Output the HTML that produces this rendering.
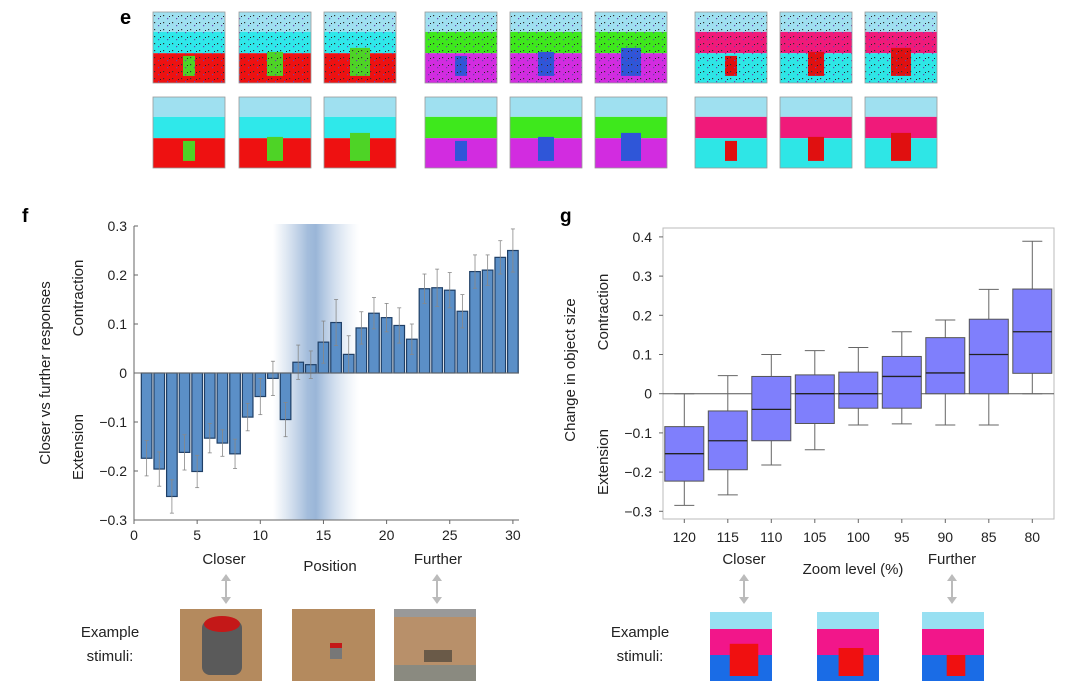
<!DOCTYPE html>
<html><head><meta charset="utf-8"><style>
html,body{margin:0;padding:0;background:#fff;}
svg{display:block;font-family:"Liberation Sans",sans-serif;}
</style></head><body>
<svg id="fig" width="1080" height="692" viewBox="0 0 1080 692" xmlns="http://www.w3.org/2000/svg">
<defs>
<linearGradient id="band" x1="0" x2="1" y1="0" y2="0">
<stop offset="0" stop-color="#aac2de" stop-opacity="0"/>
<stop offset="0.4" stop-color="#9ab6d8" stop-opacity="0.9"/>
<stop offset="0.5" stop-color="#9ab6d8" stop-opacity="1"/>
<stop offset="1" stop-color="#c8d8ec" stop-opacity="0"/>
</linearGradient>
<pattern id="noise" width="9" height="7" patternUnits="userSpaceOnUse">
<rect x="1" y="1" width="1.2" height="1.2" fill="#333"/><rect x="5" y="4" width="1.2" height="1.2" fill="#6a3fb0"/><rect x="7" y="2" width="1" height="1" fill="#222"/>
</pattern>
</defs>
<text x="120" y="24" font-size="20" font-weight="bold">e</text>
<g id="tiles"></g>
<text x="22" y="222" font-size="19" font-weight="bold">f</text>
<text x="560" y="222" font-size="19" font-weight="bold">g</text>
<g id="chartF"></g>
<g id="chartG"></g>
<g id="stimuli"></g>
</svg>
<script>
const NS='http://www.w3.org/2000/svg';
function mk(p,t,a){const e=document.createElementNS(NS,t);for(const k in a)e.setAttribute(k,a[k]);p.appendChild(e);return e;}
function tx(p,x,y,s,a){const e=mk(p,'text',Object.assign({x:x,y:y,'font-size':14,fill:'#222'},a||{}));e.textContent=s;return e;}

// ===== Panel f data =====
const fPositions=[1,2,3,4,5,6,7,8,9,10,11,12,13,14,15,16,17,18,19,20,21,22,23,24,25,26,27,28,29,30];
const fValues=[-0.174,-0.196,-0.252,-0.162,-0.201,-0.133,-0.143,-0.165,-0.090,-0.048,-0.011,-0.095,0.022,0.017,0.063,0.103,0.038,0.092,0.122,0.113,0.097,0.069,0.172,0.174,0.169,0.126,0.207,0.210,0.236,0.250];
const fErrors=[0.036,0.035,0.034,0.036,0.033,0.030,0.027,0.030,0.028,0.037,0.035,0.035,0.035,0.028,0.043,0.047,0.038,0.033,0.032,0.029,0.036,0.031,0.030,0.038,0.036,0.034,0.034,0.031,0.034,0.044];
const fYTicks=[0.3,0.2,0.1,0,-0.1,-0.2,-0.3];
const fYLabels=['0.3','0.2','0.1','0','\u22120.1','\u22120.2','\u22120.3'];
const fXTicks=[0,5,10,15,20,25,30];

const fX=v=>134+v*12.63;
const fY=v=>373-v*490;
const F=document.getElementById('chartF');
const band=mk(F,'rect',{x:273,y:224,width:86,height:296,fill:'url(#band)'});


fPositions.forEach((p,i)=>{
  const v=fValues[i],cx=fX(p),w=10.6;
  const b=mk(F,'rect',{x:cx-w/2,y:Math.min(fY(v),fY(0)),width:w,height:Math.abs(fY(v)-fY(0)),fill:'#5b8fc7',stroke:'#1f3f66','stroke-width':1.2});
  
  
  const e=fErrors[i];
  const g=mk(F,'g',{stroke:'#888','stroke-width':0.8});
  
  
  mk(g,'line',{x1:cx,x2:cx,y1:fY(v+e),y2:fY(v-e)});
  mk(g,'line',{x1:cx-2,x2:cx+2,y1:fY(v+e),y2:fY(v+e)});
  mk(g,'line',{x1:cx-2,x2:cx+2,y1:fY(v-e),y2:fY(v-e)});
});
mk(F,'line',{x1:134,x2:519,y1:fY(0),y2:fY(0),stroke:'#666','stroke-width':1});
mk(F,'line',{x1:134,x2:134,y1:fY(0.3),y2:fY(-0.3),stroke:'#666','stroke-width':1});
mk(F,'line',{x1:134,x2:519,y1:fY(-0.3),y2:fY(-0.3),stroke:'#666','stroke-width':1});
fYTicks.forEach((t,i)=>{mk(F,'line',{x1:134,x2:138,y1:fY(t),y2:fY(t),stroke:'#666'});
  const l=tx(F,127,fY(t)+5,fYLabels[i],{'text-anchor':'end'});
  
  });
fXTicks.forEach(t=>{mk(F,'line',{x1:fX(t),x2:fX(t),y1:fY(-0.3),y2:fY(-0.3)+4,stroke:'#666'});
  const l=tx(F,fX(t),540,String(t),{'text-anchor':'middle'});
  
  });
let t1=tx(F,0,0,'Closer vs further responses',{transform:'translate(50,373) rotate(-90)','text-anchor':'middle','font-size':15});

t1=tx(F,0,0,'Contraction',{transform:'translate(83,298) rotate(-90)','text-anchor':'middle','font-size':15});

t1=tx(F,0,0,'Extension',{transform:'translate(83,447) rotate(-90)','text-anchor':'middle','font-size':15});


// ===== Panel g data =====
const gCategories=['120','115','110','105','100','95','90','85','80'];
const gWhiskLow=[-0.285,-0.258,-0.182,-0.143,-0.080,-0.077,-0.080,-0.080,0.0];
const gQ1=[-0.223,-0.194,-0.120,-0.076,-0.037,-0.037,0.0,0.0,0.052];
const gMedian=[-0.153,-0.120,-0.040,0.0,0.0,0.044,0.053,0.100,0.158];
const gQ3=[-0.084,-0.044,0.044,0.048,0.055,0.095,0.143,0.190,0.267];
const gWhiskHigh=[0.0,0.046,0.100,0.110,0.118,0.158,0.188,0.266,0.389];
const gYTicks=[0.4,0.3,0.2,0.1,0,-0.1,-0.2,-0.3];
const gYLabels=['0.4','0.3','0.2','0.1','0','\u22120.1','\u22120.2','\u22120.3'];

const gX=i=>684.3+i*43.5;
const gY=v=>393.7-v*392;
const G=document.getElementById('chartG');
mk(G,'rect',{x:663,y:228,width:391,height:291,fill:'none',stroke:'#bbb','stroke-width':1});
mk(G,'line',{x1:663,x2:1054,y1:gY(0),y2:gY(0),stroke:'#555','stroke-width':1});
gCategories.forEach((c,i)=>{
  const cx=gX(i),w=39;
  const g=mk(G,'g',{});
  
  
  mk(g,'line',{x1:cx,x2:cx,y1:gY(gWhiskHigh[i]),y2:gY(gWhiskLow[i]),stroke:'#666','stroke-width':1});
  mk(g,'line',{x1:cx-10,x2:cx+10,y1:gY(gWhiskHigh[i]),y2:gY(gWhiskHigh[i]),stroke:'#666','stroke-width':1});
  mk(g,'line',{x1:cx-10,x2:cx+10,y1:gY(gWhiskLow[i]),y2:gY(gWhiskLow[i]),stroke:'#666','stroke-width':1});
  mk(g,'rect',{x:cx-w/2,y:gY(gQ3[i]),width:w,height:gY(gQ1[i])-gY(gQ3[i]),fill:'#7f7ffc',stroke:'#555','stroke-width':1});
  mk(g,'line',{x1:cx-w/2,x2:cx+w/2,y1:gY(gMedian[i]),y2:gY(gMedian[i]),stroke:'#222','stroke-width':1.3});
  mk(G,'line',{x1:cx,x2:cx,y1:519,y2:523,stroke:'#666'});
  const l=tx(G,cx,542,c,{'text-anchor':'middle'});
  
  
});
gYTicks.forEach((t,i)=>{mk(G,'line',{x1:659,x2:663,y1:gY(t),y2:gY(t),stroke:'#666'});
  const l=tx(G,652,gY(t)+5,gYLabels[i],{'text-anchor':'end'});
  
  });
t1=tx(G,0,0,'Change in object size',{transform:'translate(575,370) rotate(-90)','text-anchor':'middle','font-size':15});

t1=tx(G,0,0,'Contraction',{transform:'translate(608,312) rotate(-90)','text-anchor':'middle','font-size':15});

t1=tx(G,0,0,'Extension',{transform:'translate(608,462) rotate(-90)','text-anchor':'middle','font-size':15});


// ===== Panel e tiles =====
const T=document.getElementById('tiles');
const tileX=[[153,239,324],[425,510,595],[695,780,865]];
const groupCols=[['#9fe0f0','#2fe8ea','#ee1111','#4ed326'],['#9fe0f0','#3ee81c','#d22ce0','#2f56d8'],['#9fe0f0','#f01a7a','#2ee6e6','#e01010']];
tileX.forEach((row,gi)=>row.forEach((x,k)=>{
  [[12,true],[97,false]].forEach(([y,noisy])=>{
    const c=groupCols[gi],w=72,h=71;
    const g=mk(T,'g',{});
    
    
    const top=y;
    mk(g,'rect',{x:x,y:top,width:w,height:h*0.28,fill:c[0]});
    mk(g,'rect',{x:x,y:top+h*0.28,width:w,height:h*0.3,fill:c[1]});
    mk(g,'rect',{x:x,y:top+h*0.58,width:w,height:h*0.42,fill:c[2]});
    const ow=12+k*4,oh=20+k*4;
    mk(g,'rect',{x:x+w/2-ow/2,y:top+h*0.9-oh,width:ow,height:oh,fill:c[3]});
    if(noisy)mk(g,'rect',{x:x,y:top,width:w,height:h,fill:'url(#noise)'});
    mk(g,'rect',{x:x,y:top,width:w,height:h,fill:'none',stroke:'#999','stroke-width':0.8});
  });
}));

// ===== Stimuli =====
const S=document.getElementById('stimuli');
function arrow(x){const g=mk(S,'g',{stroke:'#bbb','stroke-width':2,fill:'#bbb'});
  
  mk(g,'line',{x1:x,x2:x,y1:578,y2:600});
  mk(g,'path',{d:`M${x-5} 581 L${x} 574 L${x+5} 581Z`,stroke:'none'});
  mk(g,'path',{d:`M${x-5} 597 L${x} 604 L${x+5} 597Z`,stroke:'none'});}
[['Closer',224,564],['Position',330,571],['Further',438,564],['Closer',744,564],['Zoom level (%)',853,574],['Further',952,564]].forEach(a=>{
  const l=tx(S,a[1],a[2],a[0],{'text-anchor':'middle','font-size':15});
  });
[226,437,744,952].forEach(arrow);
[[110,637],[640,637]].forEach(a=>{
  const l=tx(S,a[0],a[1],'Example',{'text-anchor':'middle','font-size':15});
  
  const l2=tx(S,a[0],661,'stimuli:',{'text-anchor':'middle','font-size':15});
  });
[[180,82],[292,83],[394,82]].forEach((a,i)=>{
  const g=mk(S,'g',{});
  mk(g,'rect',{x:a[0],y:609,width:a[1],height:72,fill:i==2?'#b8906a':'#b48a5e'});
  if(i==0){mk(g,'rect',{x:a[0]+22,y:620,width:40,height:55,rx:8,fill:'#5a5a5a'});mk(g,'ellipse',{cx:a[0]+42,cy:624,rx:18,ry:8,fill:'#c41818'});}
  if(i==1){mk(g,'rect',{x:a[0]+38,y:645,width:12,height:14,fill:'#777'});mk(g,'rect',{x:a[0]+38,y:643,width:12,height:5,fill:'#c41818'});}
  if(i==2){mk(g,'rect',{x:a[0],y:609,width:82,height:8,fill:'#999'});mk(g,'rect',{x:a[0],y:665,width:82,height:16,fill:'#8a8a80'});mk(g,'rect',{x:a[0]+30,y:650,width:28,height:12,fill:'#6a5a48'});}
});
[[710,46],[817,40],[922,30]].forEach(a=>{
  const x=a[0],w=62,g=mk(S,'g',{});
  mk(g,'rect',{x:x,y:612,width:w,height:17,fill:'#98e0f2'});
  mk(g,'rect',{x:x,y:629,width:w,height:26,fill:'#f2168a'});
  mk(g,'rect',{x:x,y:655,width:w,height:26,fill:'#1a6ce6'});
  const s=a[1]*0.62;mk(g,'rect',{x:x+w/2-s/2+3,y:676-a[1]*0.7,width:s,height:a[1]*0.7,fill:'#f01010'});
});
</script>
</body></html>
